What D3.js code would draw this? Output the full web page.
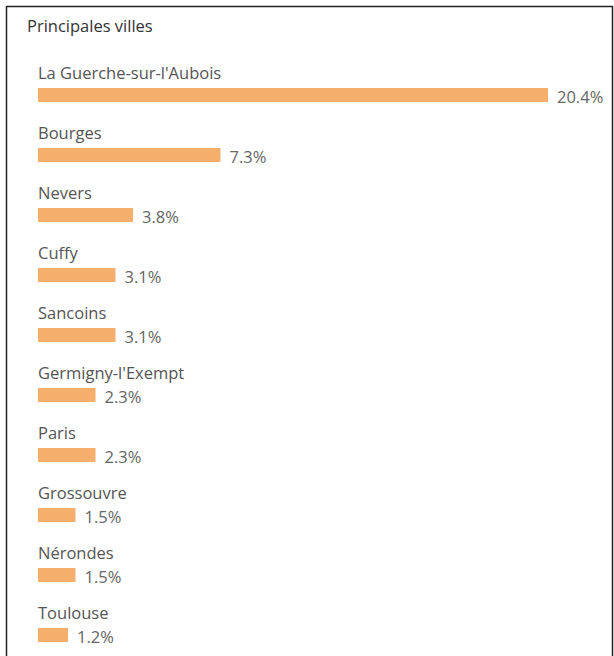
<!DOCTYPE html>
<html>
<head>
<meta charset="utf-8">
<script src="https://cdn.jsdelivr.net/npm/d3@7"></script>
<style>
  html, body { margin: 0; padding: 0; background: #fff; }
  svg { display: block; }
</style>
</head>
<body>
<svg id="chart" width="614" height="656"></svg>
<script>
const title = "Principales villes";
const cities = ["La Guerche-sur-l'Aubois", "Bourges", "Nevers", "Cuffy", "Sancoins",
  "Germigny-l'Exempt", "Paris", "Grossouvre", "Nérondes", "Toulouse"];
const shares = [20.4, 7.3, 3.8, 3.1, 3.1, 2.3, 2.3, 1.5, 1.5, 1.2];
const valueLabels = ["20.4%", "7.3%", "3.8%", "3.1%", "3.1%", "2.3%", "2.3%", "1.5%", "1.5%", "1.2%"];

const svg = d3.select("#chart");
const font = "'Open Sans', 'Noto Sans', sans-serif";

// panel border
svg.append("rect")
  .attr("x", 6.5).attr("y", 6.5)
  .attr("width", 606).attr("height", 660)
  .attr("fill", "#fff").attr("stroke", "#222").attr("stroke-width", 1.5);

svg.append("text")
  .attr("x", 27).attr("y", 32)
  .attr("font-family", font).attr("font-size", 16.5).attr("font-weight", 500)
  .attr("fill", "#333")
  .text(title);

const x = d3.scaleLinear().domain([0, 20.4]).range([38, 548]);
const y = d3.scaleBand().domain(cities).range([60, 660]).paddingInner(0);

const rows = svg.append("g").selectAll("g")
  .data(cities.map((c, i) => ({ city: c, v: shares[i], lab: valueLabels[i] })))
  .join("g")
  .attr("transform", d => `translate(0,${y(d.city)})`);

rows.append("text")
  .attr("x", 38).attr("y", 19)
  .attr("font-family", font).attr("font-size", 16.5)
  .attr("fill", "#555")
  .text(d => d.city);

rows.append("rect")
  .attr("x", x(0)).attr("y", 28)
  .attr("width", d => x(d.v) - x(0)).attr("height", 14)
  .attr("fill", "#F5AE6B");

rows.append("text")
  .attr("x", d => x(d.v) + 9).attr("y", 43)
  .attr("font-family", font).attr("font-size", 16.5)
  .attr("fill", "#666")
  .text(d => d.lab);
</script>
</body>
</html>
